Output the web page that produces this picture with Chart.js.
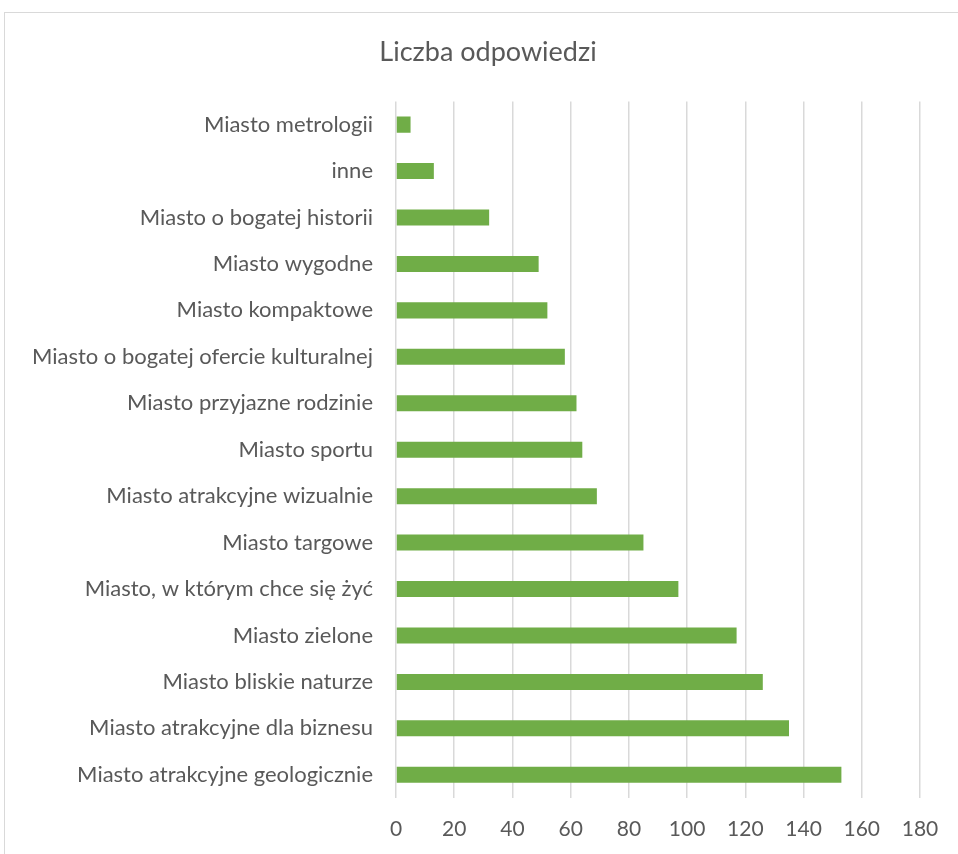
<!DOCTYPE html>
<html>
<head>
<meta charset="utf-8">
<script src="https://cdn.jsdelivr.net/npm/chart.js@4/dist/chart.umd.min.js"></script>
<style>
  html, body { margin: 0; padding: 0; background: #ffffff; }
  #wrap { position: relative; width: 958px; height: 854px; overflow: hidden; }
  #frame { position: absolute; left: 4px; top: 12px; width: 1000px; height: 1000px; border: 1px solid #d9d9d9; box-sizing: border-box; }
  canvas { position: absolute; left: 0; top: 0; }
</style>
</head>
<body>
<div id="wrap">
  <div id="frame"></div>
  <canvas id="c" width="958" height="854"></canvas>
</div>
<script>
const categories = [
  "Miasto metrologii",
  "inne",
  "Miasto o bogatej historii",
  "Miasto wygodne",
  "Miasto kompaktowe",
  "Miasto o bogatej ofercie kulturalnej",
  "Miasto przyjazne rodzinie",
  "Miasto sportu",
  "Miasto atrakcyjne wizualnie",
  "Miasto targowe",
  "Miasto, w którym chce się żyć",
  "Miasto zielone",
  "Miasto bliskie naturze",
  "Miasto atrakcyjne dla biznesu",
  "Miasto atrakcyjne geologicznie"
];
const values = [5, 13, 32, 49, 52, 58, 62, 64, 69, 85, 97, 117, 126, 135, 153];
const titleText = "Liczba odpowiedzi";
const xMin = 0, xMax = 180, xStep = 20;

const FONT = "Lato, 'Open Sans', sans-serif";
const TEXT = "#595959";

const titleShift = {
  id: 'titleShift',
  afterLayout(chart) {
    const t = chart.titleBlock;
    if (t) { t.left = 56; t.right = 920; t.width = 864; }
  }
};

new Chart(document.getElementById('c'), {
  type: 'bar',
  data: {
    labels: categories,
    datasets: [{
      label: titleText,
      data: values,
      backgroundColor: '#70AD47',
      borderWidth: 0,
      categoryPercentage: 0.69,
      barPercentage: 0.5
    }]
  },
  plugins: [titleShift],
  options: {
    indexAxis: 'y',
    responsive: false,
    animation: false,
    layout: { padding: { left: 0, right: 38, top: 0, bottom: 0 } },
    plugins: {
      legend: { display: false },
      tooltip: { enabled: false },
      title: {
        display: true,
        text: titleText,
        color: TEXT,
        font: { family: FONT, size: 27, weight: 'normal' },
        padding: { top: 36, bottom: 33 }
      }
    },
    scales: {
      x: {
        min: xMin, max: xMax,
        ticks: { stepSize: xStep, color: TEXT, font: { family: FONT, size: 21 }, padding: 19 },
        grid: { color: '#d9d9d9', lineWidth: 1.5, drawTicks: false },
        border: { display: false },
        afterFit: s => { s.height = 56; }
      },
      y: {
        ticks: { color: TEXT, font: { family: FONT, size: 22 }, padding: 23, autoSkip: false },
        grid: { display: false, drawTicks: false },
        border: { display: false },
        afterFit: s => { s.width = 396; }
      }
    }
  }
});
</script>
</body>
</html>
